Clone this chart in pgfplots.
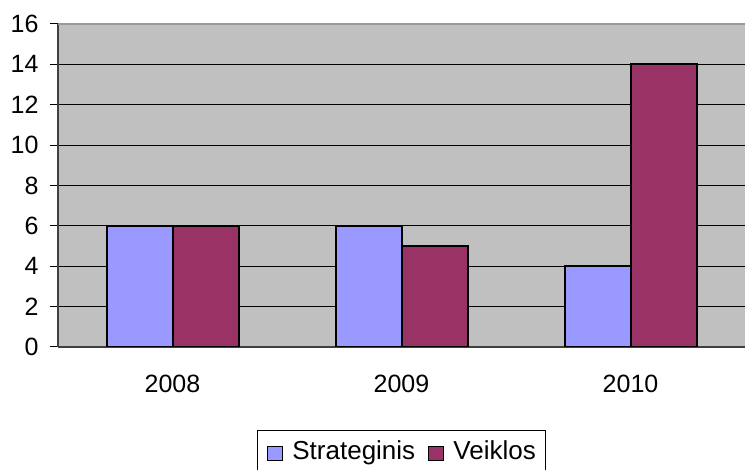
\documentclass[border=0pt]{standalone}
\usepackage{pgfplots}
\pgfplotsset{compat=1.18}
\usepackage{fontspec}
\setmainfont{Liberation Sans}
\definecolor{plotbg}{HTML}{C0C0C0}
\definecolor{sblue}{HTML}{9999FF}
\definecolor{smaroon}{HTML}{993366}
\begin{document}
\fontsize{25}{29}\selectfont
\begin{tikzpicture}[x=1pt,y=1pt]
\useasboundingbox (0,0) rectangle (746,470);
\begin{axis}[
  at={(58pt,123pt)}, anchor=south west,
  scale only axis, width=687pt, height=323pt,
  xmin=-0.5, xmax=2.5, ymin=0, ymax=16,
  ytick={0,2,...,16},
  xtick={0,1,2}, xticklabels={2008,2009,2010},
  major x tick style={draw=none},
  extra x ticks={-0.5,0.5,1.5,2.5}, extra x tick labels={},
  extra x tick style={major tick length=16pt, tick style={draw=black!75, line width=1pt}, grid=none},
  axis x line*=bottom, axis y line*=left,
  axis line style={draw=black!75, line width=1.5pt, -},
  tick align=outside, major tick length=8pt,
  tick style={black, line width=1pt},
  ymajorgrids, major grid style={black, line width=1.2pt},
  axis background/.style={fill=plotbg},
  ticklabel style={font=\fontsize{25}{29}\selectfont},
  /pgf/number format/assume math mode=true,
  yticklabel style={xshift=-3pt},
  xticklabel style={yshift=-12pt},
  ybar, bar width=66pt,
  legend style={at={(0.5,-0.257)}, anchor=north, legend columns=2, draw=black, line width=1pt,
    font=\fontsize{26}{30}\selectfont, inner xsep=10pt, inner ysep=10pt,
    nodes={inner sep=0pt},
    /tikz/every odd column/.append style={column sep=9pt},
    /tikz/every even column/.append style={column sep=13pt}},
  legend image code/.code={\draw[#1, line width=1.2pt] (0pt,-9pt) rectangle (15pt,5pt);},
]
\addplot[fill=sblue, draw=black, line width=2pt, bar shift=-33pt] coordinates {(0,6) (1,6) (2,4)};
\addplot[fill=smaroon, draw=black, line width=2pt, bar shift=33pt] coordinates {(0,6) (1,5) (2,14)};
\draw[draw=black!40, line width=1.5pt] (axis cs:-0.5,16) -- (axis cs:2.5,16);
\legend{Strateginis, Veiklos}
\end{axis}
\end{tikzpicture}
\end{document}
